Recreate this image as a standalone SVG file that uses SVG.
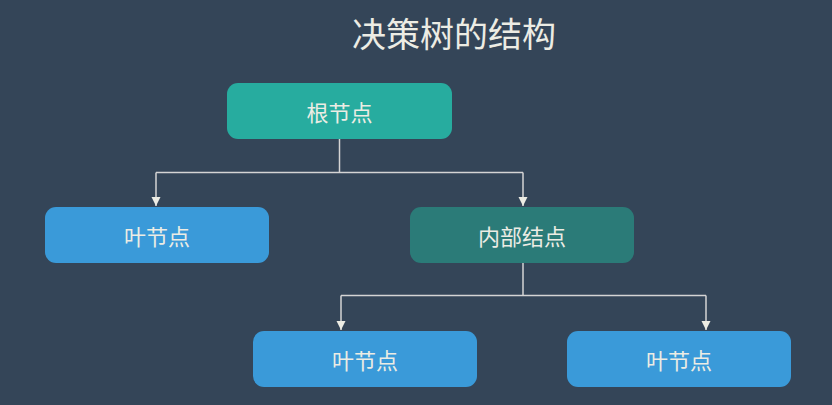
<svg xmlns="http://www.w3.org/2000/svg" width="832" height="405" viewBox="0 0 832 405">
<style>
.t{font-family:"Noto Sans CJK SC","Noto Sans",sans-serif;fill:#ecece4;text-anchor:middle;dominant-baseline:central}
.n{font-size:22px}
.leaf{fill:#3a9ad9}
.ln{stroke:#d4d4d4;stroke-width:1.5;fill:none}
</style>
<defs>
<marker id="ah" markerWidth="10" markerHeight="10" refX="9" refY="5" orient="auto" markerUnits="userSpaceOnUse">
<path d="M0,0.5 L9,5 L0,9.5 Z" fill="#ecece4"/>
</marker>
</defs>
<rect width="832" height="405" fill="#344558"/>
<text class="t" x="454" y="32" font-size="34">决策树的结构</text>
<g id="connectors">
<path class="ln" d="M339.5,139 V172.5 M156,172.5 H523"/>
<path class="ln" d="M156,172.5 V206" marker-end="url(#ah)"/>
<path class="ln" d="M523,172.5 V206" marker-end="url(#ah)"/>
<path class="ln" d="M523,263 V295.5 M341,295.5 H706"/>
<path class="ln" d="M341,295.5 V330" marker-end="url(#ah)"/>
<path class="ln" d="M706,295.5 V330" marker-end="url(#ah)"/>
</g>
<g id="root">
<rect x="227" y="83" width="225" height="56" rx="11" fill="#27ac9f"/>
<text class="t n" x="339.5" y="111">根节点</text>
</g>
<g id="leaf1">
<rect class="leaf" x="45" y="207" width="224" height="56" rx="11"/>
<text class="t n" x="157" y="235">叶节点</text>
</g>
<g id="internal">
<rect x="410" y="207" width="224" height="56" rx="11" fill="#2b7b78"/>
<text class="t n" x="522" y="235">内部结点</text>
</g>
<g id="leaf2">
<rect class="leaf" x="253" y="331" width="224" height="56" rx="11"/>
<text class="t n" x="365" y="359">叶节点</text>
</g>
<g id="leaf3">
<rect class="leaf" x="567" y="331" width="224" height="56" rx="11"/>
<text class="t n" x="679" y="359">叶节点</text>
</g>
</svg>
